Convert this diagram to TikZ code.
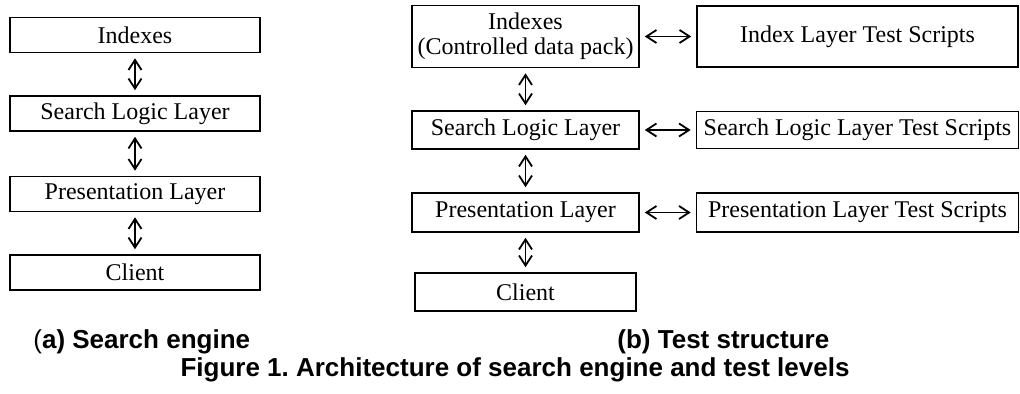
\documentclass[tikz,border=0pt]{standalone}
\usepackage{fontspec}
\setmainfont{Liberation Serif}
\newfontfamily\capfont{Liberation Sans}
\usetikzlibrary{arrows.meta}
\frenchspacing

\begin{document}
\begin{tikzpicture}[x=0.5pt,y=-0.5pt,
    layer/.style={draw,line width=0.8pt,inner sep=0pt,align=center,
      font=\fontsize{12}{12.5}\selectfont},
    link/.style={{Straight Barb[length=5pt,width=6.5pt]}-{Straight Barb[length=5pt,width=6.5pt]},
      line width=0.9pt,shorten <=2.5pt,shorten >=2.5pt},
    caption/.style={font=\capfont\bfseries\fontsize{13}{15}\selectfont,inner sep=0pt}]
    \useasboundingbox (0,0) rectangle (1020,394);
    % (a) the search engine layers
    \foreach \n/\y/\txt in {a1/35/Indexes, a2/113.5/Search Logic Layer,
        a3/194/Presentation Layer, a4/272.5/Client} {
        \node[layer,minimum width=125pt,minimum height=17.5pt] (\n) at (135,\y) {\txt};
    }
    \draw[link] (a1) -- (a2);
    \draw[link] (a2) -- (a3);
    \draw[link] (a3) -- (a4);
    % (b) layers under test
    \node[layer,minimum width=113.5pt,minimum height=31pt] (b1) at (525.5,36.5) {Indexes\\(Controlled data pack)};
    \node[layer,minimum width=113.5pt,minimum height=19pt] (b2) at (525.5,130) {Search Logic Layer};
    \node[layer,minimum width=113.5pt,minimum height=19.5pt] (b3) at (525.5,212.5) {Presentation Layer};
    \node[layer,minimum width=110.5pt,minimum height=19pt] (b4) at (525.5,292) {Client};
    \draw[link] (b1) -- (b2);
    \draw[link] (b2) -- (b3);
    \draw[link] (b3) -- (b4);
    % test scripts, one per layer
    \node[layer,minimum width=160.5pt,minimum height=30.5pt] (t1) at (857.5,36.5) {Index Layer Test Scripts};
    \node[layer,minimum width=161pt,minimum height=18.5pt] (t2) at (857.5,130) {Search Logic Layer Test Scripts};
    \node[layer,minimum width=161pt,minimum height=19.5pt] (t3) at (857.5,212.5) {Presentation Layer Test Scripts};
    \draw[link] (b1) -- (t1);
    \draw[link] (b2) -- (t2);
    \draw[link] (b3) -- (t3);
    % captions
    \node[caption,anchor=west] (capa) at (33,342) {\mdseries(\bfseries a) Search engine};
    \node[caption,anchor=west] (capb) at (617,342) {(b) Test structure};
    \node[caption] (fig) at (515,370) {Figure 1. Architecture of search engine and test levels};
\end{tikzpicture}
\end{document}
